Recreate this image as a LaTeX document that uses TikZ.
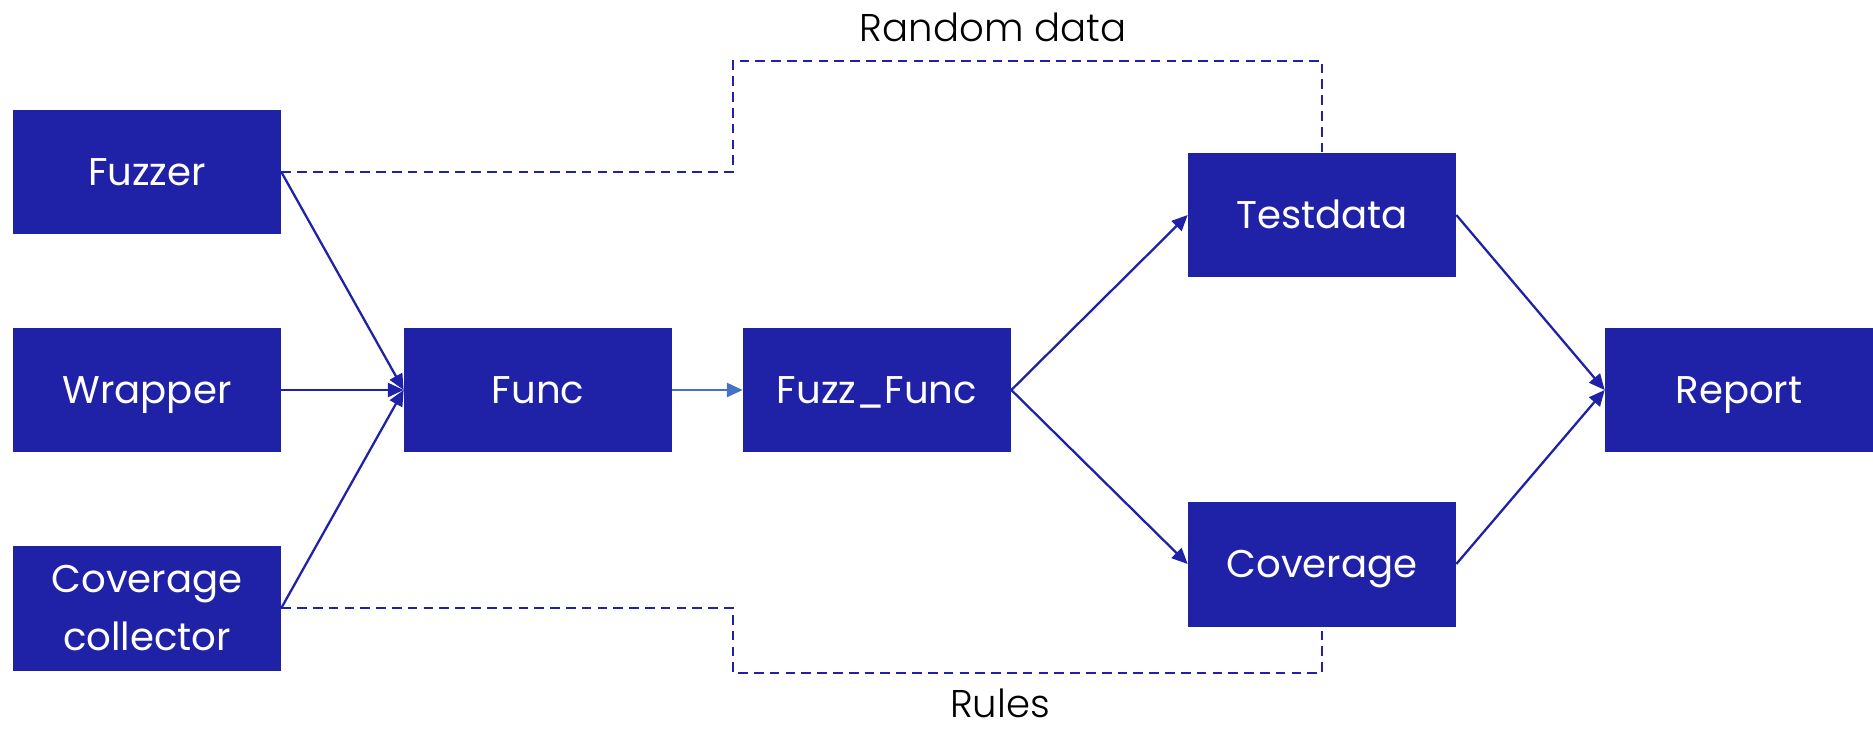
\documentclass[tikz,border=0pt]{standalone}
\usepackage{fontspec}
\setmainfont{Poppins}
\newfontfamily\lightfont{Poppins Light}
\usetikzlibrary{arrows.meta, positioning, calc}
\definecolor{boxblue}{RGB}{31, 34, 166}
\definecolor{linkblue}{RGB}{68, 114, 196}

\begin{document}
\begin{tikzpicture}[x=0.02cm, y=-0.02cm,
        block/.style={rectangle, fill=boxblue, text=white, minimum width=5.36cm,
            minimum height=2.5cm, inner sep=0pt, align=center,
            text height=15.5pt, text depth=0pt,
            font=\fontsize{22}{33}\selectfont},
        flow/.style={draw=boxblue, line width=1.3pt, -{Triangle[length=9pt, width=8pt]}},
        feedback/.style={draw=boxblue, line width=1.2pt, dash pattern=on 5.5pt off 3.5pt},
        tag/.style={font=\lightfont\fontsize{22}{26}\selectfont, text=black}
    ]
        \useasboundingbox (0,0) rectangle (1873,731);

        % Inputs
        \node[block] (fuzzer) at (147,172) {Fuzzer};
        \node[block] (wrapper) at (147,390) {Wrapper};
        \node[block, text height=48.5pt] (collector) at (147,608) {Coverage\\collector};

        % Pipeline
        \node[block] (func) at (538,390) {Func};
        \node[block] (fuzzfunc) at (877,390) {Fuzz\_Func};
        \node[block] (testdata) at (1322,215) {Testdata};
        \node[block] (coverage) at (1322,564) {Coverage};
        \node[block] (report) at (1739,390) {Report};

        % Solid arrows
        \draw[flow] (fuzzer.east) -- (func.west);
        \draw[flow] (wrapper.east) -- (func.west);
        \draw[flow] (collector.east) -- (func.west);
        \draw[flow, draw=linkblue, linkblue] (func) -- (fuzzfunc);
        \draw[flow] (fuzzfunc.east) -- (testdata.west);
        \draw[flow] (fuzzfunc.east) -- (coverage.west);
        \draw[flow] (testdata.east) -- (report.west);
        \draw[flow] (coverage.east) -- (report.west);

        % Dashed feedback lines
        \coordinate (randtop) at (733,61);
        \coordinate (rulesbot) at (733,673);
        \draw[feedback] (fuzzer.east) -| (randtop) -| (testdata.north);
        \draw[feedback] (collector.east) -| (rulesbot) -| (coverage.south);

        \node[tag] (randlabel) at (993,27) {Random data};
        \node[tag] (ruleslabel) at (1000,703) {Rules};
    \end{tikzpicture}
\end{document}
